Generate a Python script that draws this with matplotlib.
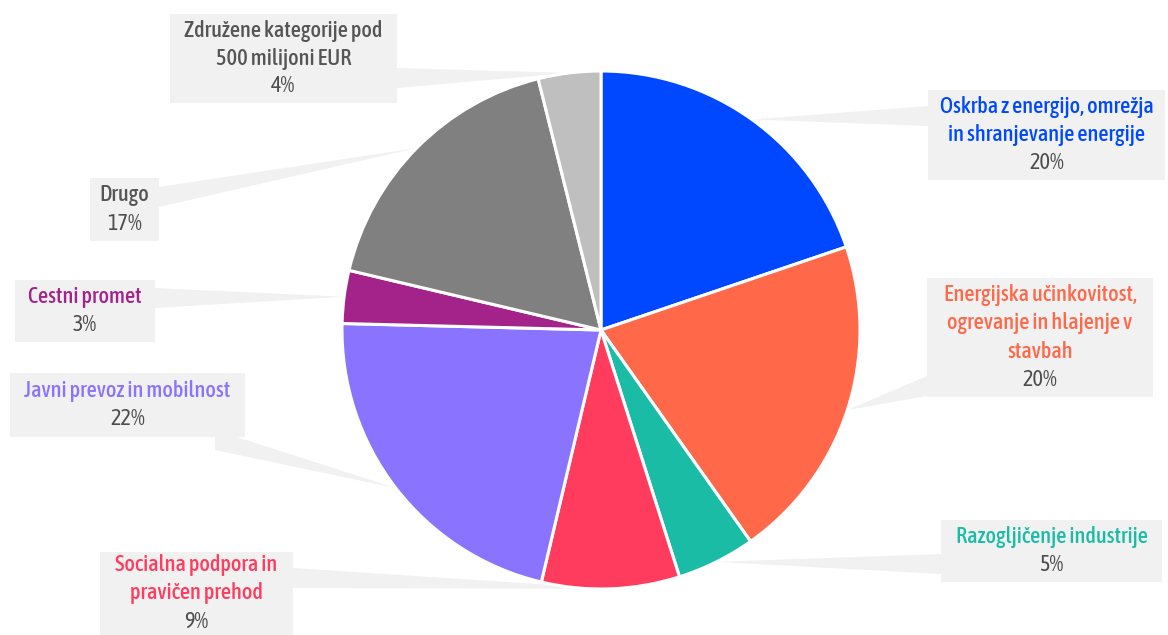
import numpy as np
import matplotlib.pyplot as plt
from matplotlib.patches import Rectangle, Polygon

# podatki (delež v %)
categories = [
    "Oskrba z energijo, omrežja\nin shranjevanje energije",
    "Energijska učinkovitost,\nogrevanje in hlajenje v\nstavbah",
    "Razogljičenje industrije",
    "Socialna podpora in\npravičen prehod",
    "Javni prevoz in mobilnost",
    "Cestni promet",
    "Drugo",
    "Združene kategorije pod\n500 milijoni EUR",
]
shares = [19.8, 20.4, 4.9, 8.6, 21.7, 3.3, 17.4, 3.9]
colors = ["#0048ff", "#ff6849", "#1abca6", "#ff3b5e", "#8a74ff", "#a3238a", "#808080", "#bfbfbf"]
label_colors = ["#0048ff", "#ff6849", "#1abca6", "#ff3b5e", "#8a74ff", "#a3238a", "#555555", "#555555"]

# postavitev oznak v pikslih: (x0, y0, x1, y1) okvirja in sidro povezave
boxes = [
    (928, 90, 1165, 180),
    (927, 278, 1153, 397),
    (941, 520, 1162, 582),
    (100, 552, 293, 635),
    (10, 373, 245, 437),
    (15, 280, 155, 342),
    (90, 178, 159, 241),
    (170, 14, 397, 103),
]
anchors = [(928, 116), (927, 386), (941, 564), (293, 578),
           (215, 440), (155, 298), (159, 197), (397, 78)]

W, H = 1168, 635
fig = plt.figure(figsize=(W / 100, H / 100), dpi=100)
ax = fig.add_axes([0, 0, 1, 1])

cx, cy, r = 601, H - 330, 259
wedges, _ = ax.pie(shares, colors=colors, startangle=90, counterclock=False,
                   center=(cx, cy), radius=r, frame=True,
                   wedgeprops=dict(edgecolor="white", linewidth=2.2, zorder=3))
ax.set_xlim(0, W)
ax.set_ylim(0, H)
ax.set_aspect("equal")
ax.axis("off")

font = ["Asap Condensed", "DejaVu Sans"]
box_col = "#f1f1f1"

for i, w in enumerate(wedges):
    mid = np.deg2rad((w.theta1 + w.theta2) / 2)
    tip = (cx + r * np.cos(mid), cy + r * np.sin(mid))
    x0, y0, x1, y1 = boxes[i]
    ax_, ay_ = anchors[i]
    ay_ = H - ay_
    ax.add_patch(Polygon([(ax_, ay_ - 10), (ax_, ay_ + 10), tip], closed=True,
                         facecolor=box_col, edgecolor="none", zorder=1))
    ax.add_patch(Rectangle((x0, H - y1), x1 - x0, y1 - y0, facecolor=box_col,
                           edgecolor="none", zorder=2))
    xc = (x0 + x1) / 2
    yc = H - (y0 + y1) / 2
    n = categories[i].count("\n") + 2
    lh = 28
    top = yc + (n - 1) * lh / 2
    for k, line in enumerate(categories[i].split("\n")):
        ax.text(xc, top - k * lh, line, ha="center", va="center", fontsize=16,
                color=label_colors[i], family=font, fontweight="medium", zorder=4)
    ax.text(xc, top - (n - 1) * lh, f"{round(shares[i])}%", ha="center", va="center",
            fontsize=16, color="#4d4d4d", family=font, zorder=4)

fig.savefig("out.png", dpi=100)
